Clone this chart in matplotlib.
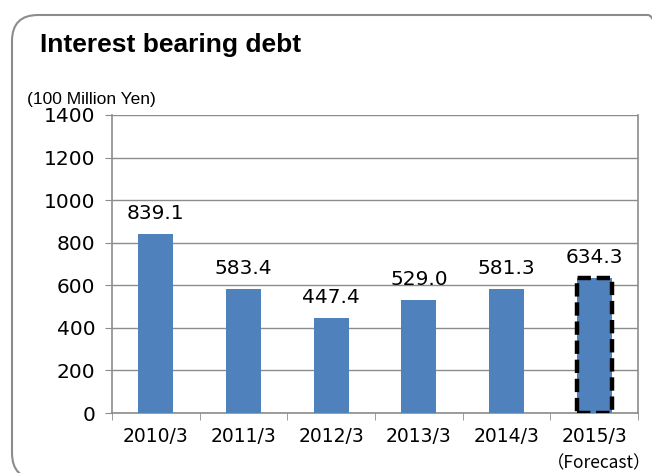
import numpy as np
import matplotlib.pyplot as plt
from matplotlib.patches import FancyBboxPatch

plt.rcParams['font.family'] = ['DejaVu Sans', 'Noto Sans CJK JP']

years = ['2010/3', '2011/3', '2012/3', '2013/3', '2014/3', '2015/3']
debt = [839.1, 583.4, 447.4, 529.0, 581.3, 634.3]
labels = ['839.1', '583.4', '447.4', '529.0', '581.3', '634.3']
y_ticks = [0, 200, 400, 600, 800, 1000, 1200, 1400]

fig = plt.figure(figsize=(6.52, 4.73), dpi=100)

# rounded frame around the whole chart (runs off the right/bottom edge)
frame = FancyBboxPatch((12 / 652, -6 / 473), 662 / 652, 464 / 473,
                       boxstyle='round,pad=0,rounding_size=0.04',
                       transform=fig.transFigure, facecolor='none',
                       edgecolor='#8c8c8c', linewidth=1.5,
                       mutation_aspect=652 / 473, zorder=-1)
fig.patches.append(frame)

ax = fig.add_axes([112 / 652, 1 - 413 / 473, 526 / 652, 298 / 473])
ax.set_facecolor('none')

x = np.arange(len(years))
bars = ax.bar(x, debt, width=0.4, color='#4F81BD', zorder=3)
last = bars[-1]
last.set_edgecolor('black')
last.set_linestyle((0, (3, 1.3)))
last.set_linewidth(3.2)

for xi, v, lab in zip(x, debt, labels):
    ax.annotate(lab, (xi, v), xytext=(0, 8), textcoords='offset points',
                ha='center', va='bottom', fontsize=14.5)

ax.set_xlim(-0.5, len(years) - 0.5)
ax.set_ylim(0, 1400)
ax.set_yticks(y_ticks)
ax.set_yticklabels([str(t) for t in y_ticks], fontsize=14.5)
ax.set_xticks(x)
ax.set_xticklabels(years, fontsize=13.5)
ax.set_xticks(np.arange(-0.5, len(years)), minor=True)
ax.tick_params(axis='x', which='major', length=0, pad=10)
ax.tick_params(axis='x', which='minor', length=5, color='#8c8c8c', direction='out')
ax.tick_params(axis='y', length=5, color='#8c8c8c', direction='out', pad=7)
ax.grid(axis='y', color='#8c8c8c', linewidth=1.0, zorder=0)
for side in ['left', 'bottom', 'right', 'top']:
    ax.spines[side].set_color('#8c8c8c')
    ax.spines[side].set_linewidth(1.2)
ax.spines['top'].set_visible(False)

fig.text(40 / 652, 1 - 45 / 473, 'Interest bearing debt', fontsize=19,
         fontweight='bold', family=['Liberation Sans', 'DejaVu Sans'],
         ha='left', va='center')
fig.text(27 / 652, 1 - 99 / 473, '(100 Million Yen)', fontsize=12.5,
         family=['Liberation Sans', 'DejaVu Sans'], ha='left', va='center')
fig.text(599 / 652, 1 - 463 / 473, '（Forecast）', fontsize=12.5,
         family=['Noto Sans CJK JP', 'DejaVu Sans'], ha='center', va='center')

fig.savefig('out.png', dpi=100)
